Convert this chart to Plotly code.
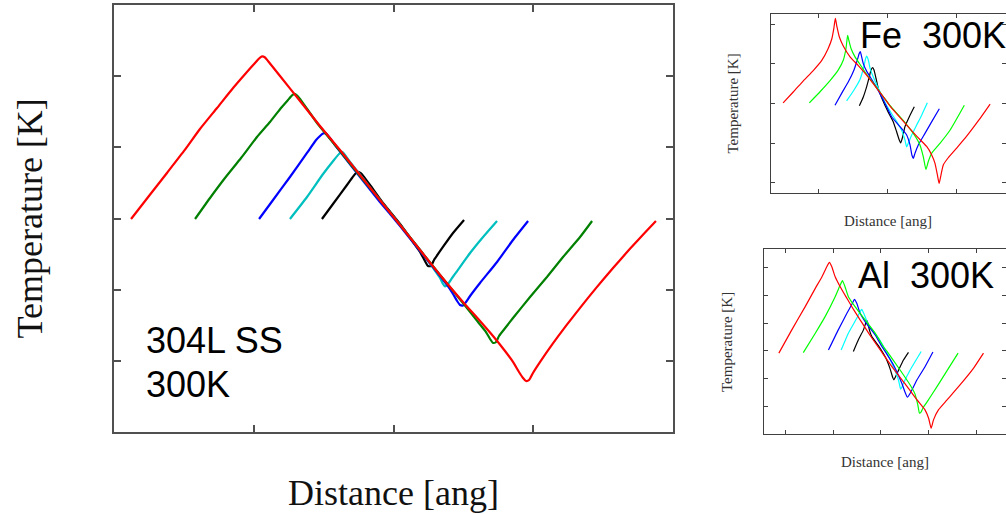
import plotly.graph_objects as go

# ---------------- Main panel (304L SS, 300K) ----------------
main_red_x = [12.2, 25.0, 37.9, 50.1, 61.5, 73.7, 85.2, 94.5, 100.9, 103.8, 105.9, 108.1, 110.2,
              118.8, 133.1, 147.4, 161.7, 176.0, 190.3, 204.7, 219.0, 233.3, 249.7, 261.9, 271.2,
              279.8, 285.5, 289.8, 292.7, 294.8, 297.0, 299.8, 304.8, 314.1, 323.4, 333.5, 344.9,
              357.1, 369.2, 380.0, 387.8]
main_red_y = [299.3, 331.6, 364.0, 394.9, 425.8, 455.3, 483.4, 504.5, 518.5, 524.8, 527.7, 526.2, 521.3,
              500.3, 465.1, 430.0, 396.3, 361.1, 326.0, 290.9, 255.7, 220.6, 182.7, 156.0, 134.9,
              113.8, 98.4, 84.3, 75.9, 71.7, 73.1, 82.9, 98.1, 124.4, 149.1, 174.5, 202.2,
              230.5, 257.4, 280.3, 296.5]

main_green_x = [58.0, 68.7, 79.4, 90.9, 102.3, 111.6, 119.5, 124.5, 127.4, 129.2, 131.0, 134.5, 145.3,
                161.7, 176.0, 190.3, 204.7, 219.0, 233.3, 249.7, 260.5, 266.2, 269.1, 271.2, 273.4,
                275.5, 280.5, 285.5, 297.7, 309.8, 321.3, 333.5, 342.1]
main_green_y = [299.3, 328.8, 356.9, 385.0, 414.5, 435.6, 455.3, 466.5, 472.9, 475.0, 472.7, 464.2, 434.2,
                394.9, 359.7, 326.0, 290.9, 255.7, 220.6, 181.3, 154.6, 140.5, 130.7, 125.1, 126.5,
                134.9, 147.5, 160.2, 189.7, 217.8, 245.9, 274.0, 296.5]

main_blue_x = [103.8, 113.8, 125.9, 138.1, 144.6, 147.4, 149.6, 151.7, 153.9, 158.1, 171.0, 190.3, 204.7,
               219.0, 231.1, 238.3, 242.6, 245.5, 247.6, 249.7, 251.9, 254.8, 261.9, 274.1, 285.5, 296.3]
main_blue_y = [299.3, 326.0, 358.3, 392.1, 410.3, 416.0, 419.5, 419.5, 414.5, 403.3, 371.0, 323.2, 289.5,
               254.3, 224.8, 206.6, 193.9, 184.1, 178.5, 177.8, 182.7, 191.1, 209.4, 238.9, 269.8, 296.5]

main_cyan_x = [125.9, 138.1, 149.6, 157.4, 161.0, 163.2, 165.3, 168.9, 179.6, 190.3, 204.7, 219.0, 228.3,
               233.3, 235.4, 236.9, 239.0, 241.9, 245.5, 254.8, 264.1, 274.1]
main_cyan_y = [299.3, 330.2, 362.5, 382.2, 390.6, 393.5, 389.2, 379.4, 352.7, 326.0, 290.9, 255.7, 230.5,
               216.4, 208.0, 204.5, 208.0, 216.4, 226.2, 251.5, 274.0, 296.5]

main_black_x = [148.8, 156.7, 166.7, 170.3, 172.5, 174.6, 176.8, 178.9, 183.2, 192.5, 204.7, 214.0, 219.0,
                222.5, 224.7, 226.8, 229.0, 235.4, 242.6, 250.5]
main_black_y = [299.3, 320.4, 347.1, 356.9, 362.5, 365.4, 363.3, 358.3, 347.1, 321.8, 292.3, 267.0, 252.9,
                240.3, 233.3, 233.3, 241.7, 260.0, 279.6, 297.9]

main_xticks = [100, 200, 300]
main_yticks = [100, 200, 300, 400, 500]

# ---------------- Fe panel ----------------
fe_red_x = [49, 64, 78, 93, 105, 114, 119.5, 122.5, 124.7, 127, 130.5, 136, 146, 158, 170, 182, 194, 204,
            223, 242.5, 257, 264, 269, 272.5, 275, 277.3, 281, 288, 300.5, 315, 332, 349]
fe_red_y = [302, 330, 357, 384, 409, 438, 463, 490, 515, 494, 468, 446, 418, 396, 372, 345, 318, 294,
            256, 218, 192, 172, 150, 121, 99, 116, 145, 163, 188, 218, 257, 299]

fe_green_x = [87, 102.5, 117, 129, 136.3, 140.1, 142.5, 144.5, 147.4, 153.2, 162, 170, 182, 194, 204, 223,
              237.7, 247.3, 252.2, 256, 259.4, 264.3, 276.3, 290.8, 311.6]
fe_green_y = [302, 330, 358, 385, 410, 439, 472, 458, 439, 418, 395, 374, 346, 318, 295, 258,
              225, 196, 166, 134, 154, 175, 200, 233, 296]

fe_blue_x = [124.2, 133.8, 143.5, 151.7, 156.5, 159.4, 160.9, 162.8, 165.2, 170, 182, 194, 206.3, 218.4,
             228, 232.9, 235.7, 237.7, 240.1, 244.9, 254.6, 264.2, 275.4]
fe_blue_y = [296, 326, 355, 385, 410, 427, 431, 418, 401, 382, 348, 310, 267, 242,
             221, 196, 170, 162, 175, 196, 225, 254, 287]

fe_cyan_x = [141, 150.8, 160.4, 166, 168.6, 170, 172.5, 175, 180, 188, 199, 211, 220.8, 225.6, 228, 230.4,
             235.3, 242.5, 249.8, 258]
fe_cyan_y = [307, 332, 361, 393, 414, 420, 410, 389, 366, 335, 295, 262, 233, 208, 191, 200,
             221, 246, 271, 302]

fe_black_x = [159.5, 165.2, 170.1, 173.9, 176.3, 178.8, 180.7, 183.6, 187, 191.8, 201.5, 208.7, 213.5,
              217.4, 219.3, 222.2, 225.6, 231.9, 239.1]
fe_black_y = [295, 317, 343, 368, 385, 391, 385, 364, 338, 315, 278, 254, 229,
              208, 201, 216, 242, 267, 292]

fe_xticks = [100, 200, 300]
fe_yticks = [100, 200, 300, 400, 500]

# ---------------- Al panel ----------------
al_red_x = [87, 114, 142, 163, 177, 187, 192.5, 197.5, 204.5, 215, 229, 243, 260, 279, 300, 326, 354, 375,
            392, 399.5, 404.8, 409.7, 420, 438, 465, 493, 514]
al_red_y = [292, 376, 460, 526, 568, 604, 620, 604, 568, 532, 490, 449, 403, 352, 300, 236, 173, 124,
            87, 57, 21, 51, 87, 123, 177, 237, 292]

al_green_x = [138, 163, 183.5, 204.5, 215, 219.7, 225, 232, 246, 267, 288, 305, 312, 340, 361, 371, 377,
              380.5, 384, 388, 396, 417, 438, 461]
al_green_y = [294, 364, 424, 496, 538, 554, 532, 496, 460, 412, 364, 316, 300, 231, 177, 145, 105,
              75, 80, 95, 115, 171, 229, 292]

al_blue_x = [190.5, 211, 229, 240.5, 244.7, 249.6, 256.6, 267, 288, 300, 326, 343.6, 350.6, 355.4, 361,
             375, 392, 408.5]
al_blue_y = [303, 376, 436, 472, 486, 472, 436, 406, 358, 322, 250, 183, 150, 133, 147,
             195, 243, 296]

al_cyan_x = [217, 232, 249.6, 256.6, 260, 265.6, 274, 295, 309, 326, 336.6, 340.1, 341.5, 344, 347, 361, 384]
al_cyan_y = [303, 364, 418, 442, 450, 430, 394, 346, 304, 243, 195, 168, 162, 170, 183, 231, 298]

al_black_x = [242.5, 253, 263.5, 270.5, 273, 276, 281, 295, 310, 319, 324.8, 327, 330, 337, 347, 357.5]
al_black_y = [298, 340, 376, 410, 398, 375, 352, 318, 275, 236, 203, 195, 205, 231, 267, 295]

al_xticks = [100, 200, 300, 400, 500]
al_yticks = [100, 200, 300, 400, 500, 600]

# ---------------- styles ----------------
MAIN_COLORS = {"black": "#000000", "cyan": "#00BFBF", "blue": "#0000FF", "green": "#008000", "red": "#FF0000"}
SMALL_COLORS = {"black": "#000000", "cyan": "#00FFFF", "blue": "#0000FF", "green": "#00FF00", "red": "#FF0000"}

W, H = 1006, 514

def px_x(p):
    return p / W

def px_y(p):
    return 1 - p / H

fig = go.Figure()

def add_set(series, colors, xa, ya, width):
    for name, xs, ys in series:
        fig.add_trace(go.Scatter(x=xs, y=ys, mode="lines", xaxis=xa, yaxis=ya,
                                 line=dict(color=colors[name], width=width, shape="spline", smoothing=0.5),
                                 showlegend=False, hoverinfo="skip"))

add_set([("black", main_black_x, main_black_y), ("cyan", main_cyan_x, main_cyan_y),
         ("blue", main_blue_x, main_blue_y), ("green", main_green_x, main_green_y),
         ("red", main_red_x, main_red_y)], MAIN_COLORS, "x", "y", 2.2)
add_set([("black", fe_black_x, fe_black_y), ("cyan", fe_cyan_x, fe_cyan_y),
         ("blue", fe_blue_x, fe_blue_y), ("green", fe_green_x, fe_green_y),
         ("red", fe_red_x, fe_red_y)], SMALL_COLORS, "x2", "y2", 1.2)
add_set([("black", al_black_x, al_black_y), ("cyan", al_cyan_x, al_cyan_y),
         ("blue", al_blue_x, al_blue_y), ("green", al_green_x, al_green_y),
         ("red", al_red_x, al_red_y)], SMALL_COLORS, "x3", "y3", 1.2)

def ax(domain, rng, ticks, anchor, ticklen, lw, lc):
    return dict(domain=domain, range=rng, tickvals=ticks, showticklabels=False, ticks="inside",
                ticklen=ticklen, tickwidth=lw, tickcolor=lc, showline=True, linecolor=lc, linewidth=lw,
                mirror="ticks", showgrid=False, zeroline=False, anchor=anchor, fixedrange=True)

fig.update_layout(
    width=W, height=H, margin=dict(l=0, r=0, t=0, b=0),
    paper_bgcolor="white", plot_bgcolor="white", showlegend=False,
    xaxis=ax([px_x(114), px_x(673)], [0, 400], main_xticks, "y", 7, 1.5, "#505050"),
    yaxis=ax([px_y(432), px_y(5)], [0, 600], main_yticks, "x", 7, 1.5, "#505050"),
    xaxis2=ax([px_x(770.7), 1.0], [31, 372], fe_xticks, "y2", 4, 1.2, "#404040"),
    yaxis2=ax([px_y(193.3), px_y(14)], [74, 526], fe_yticks, "x2", 4, 1.2, "#404040"),
    xaxis3=ax([px_x(764), 1.0], [56, 561], al_xticks, "y3", 4, 1.2, "#404040"),
    yaxis3=ax([px_y(434), px_y(249.3)], [0, 667], al_yticks, "x3", 4, 1.2, "#404040"),
)

SERIF = "Liberation Serif, Times New Roman, serif"
SANS = "Liberation Sans, Arial, sans-serif"

def note(text, x, y, size, family, angle=0, xanchor="center", color="#111"):
    fig.add_annotation(text=text, x=px_x(x), y=px_y(y), xref="paper", yref="paper",
                       showarrow=False, textangle=angle, xanchor=xanchor, yanchor="middle",
                       font=dict(size=size, family=family, color=color))

note("Temperature [K]", 29, 218.5, 36, SERIF, angle=-90)
note("Distance [ang]", 393.5, 493, 36, SERIF)
note("304L SS", 144, 340, 36, SANS, xanchor="left", color="#000")
note("300K", 144, 384, 36, SANS, xanchor="left", color="#000")

note("Temperature [K]", 733, 103.5, 15, SERIF, angle=-90, color="#333")
note("Distance [ang]", 888, 221, 15, SERIF, color="#333")
note("Fe  300K", 858, 35.2, 36, SANS, xanchor="left", color="#000")

note("Temperature [K]", 727, 342, 15, SERIF, angle=-90, color="#333")
note("Distance [ang]", 884.5, 461.7, 15, SERIF, color="#333")
note("Al  300K", 856, 275.5, 36, SANS, xanchor="left", color="#000")

fig.write_html("out.html")
